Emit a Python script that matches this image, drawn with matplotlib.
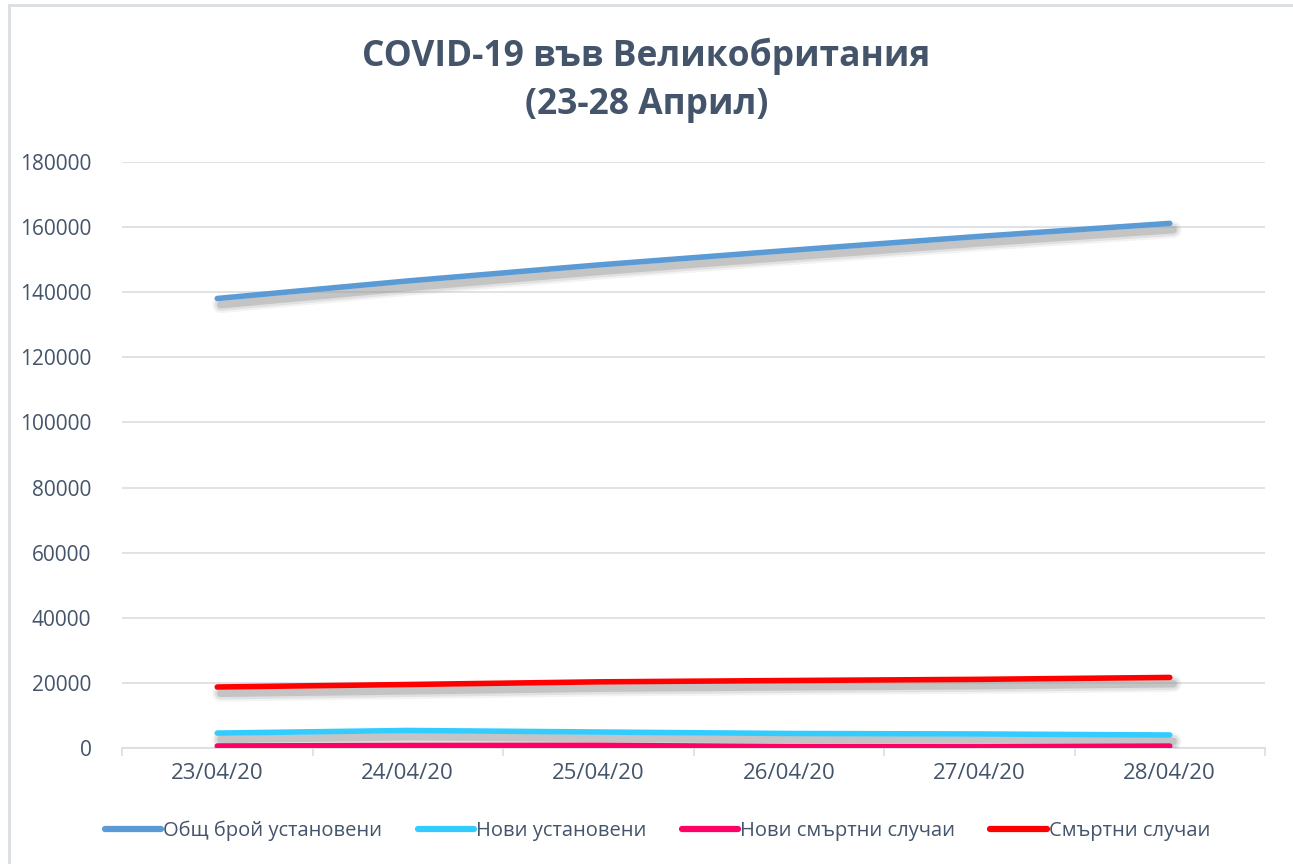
import matplotlib
matplotlib.use("Agg")
import matplotlib.pyplot as plt
import matplotlib.patheffects as pe
from matplotlib.patches import Rectangle
import numpy as np

dates = ["23/04/20", "24/04/20", "25/04/20", "26/04/20", "27/04/20", "28/04/20"]
total_cases = [138078, 143464, 148377, 152840, 157149, 161145]
new_cases = [4583, 5386, 4913, 4463, 4309, 3996]
new_deaths = [616, 768, 813, 413, 360, 586]
deaths = [18738, 19506, 20319, 20732, 21092, 21678]

series = [
    ("Общ брой установени", total_cases, "#5B9BD5"),
    ("Нови установени", new_cases, "#33CCFF"),
    ("Нови смъртни случаи", new_deaths, "#FF0066"),
    ("Смъртни случаи", deaths, "#FF0000"),
]
yticks = [0, 20000, 40000, 60000, 80000, 100000, 120000, 140000, 160000, 180000]

plt.rcParams['font.family'] = ['Open Sans', 'DejaVu Sans']
text_color = "#44546A"

W, H = 1293, 864
fig = plt.figure(figsize=(W / 100, H / 100), dpi=100)
fig.patches.append(Rectangle((8.5 / W, -0.1), 1.2, 1.1 - 5.5 / H, transform=fig.transFigure,
                             fill=False, edgecolor="#D9DEE4", linewidth=2, zorder=0))

ax = fig.add_axes([122 / W, 1 - 748 / H, (1265 - 122) / W, (748 - 162) / H])
x = np.arange(len(dates))

shadow = [
    pe.SimpleLineShadow(offset=(2.5, -4.5), shadow_color="#909090", alpha=0.10, linewidth=12),
    pe.SimpleLineShadow(offset=(2.5, -4.5), shadow_color="#909090", alpha=0.18, linewidth=9),
    pe.SimpleLineShadow(offset=(2.5, -4.5), shadow_color="#909090", alpha=0.35, linewidth=5.5),
    pe.Normal(),
]

for label, vals, color in series:
    ax.plot(x, vals, color=color, lw=4, solid_capstyle="round", label=label,
            path_effects=shadow, zorder=3)

ax.set_xlim(-0.5, len(dates) - 0.5)
ax.set_ylim(0, 180000)
ax.set_yticks(yticks)
ax.set_yticklabels([str(v) for v in yticks])
ax.set_xticks(x)
ax.set_xticklabels(dates)
ax.set_xticks(np.arange(-0.5, len(dates), 1), minor=True)

ax.grid(axis="y", color="#D9DEE4", lw=1.2, zorder=0)
for s in ["top", "right", "left"]:
    ax.spines[s].set_visible(False)
ax.spines["bottom"].set_color("#D9DEE4")
ax.spines["bottom"].set_linewidth(1.2)

ax.tick_params(axis="y", length=0, labelsize=15, labelcolor=text_color, pad=22)
ax.tick_params(axis="x", which="major", length=0, labelsize=16, labelcolor=text_color, pad=11)
ax.tick_params(axis="x", which="minor", length=6, color="#D9DEE4", width=1.2)

fig.text(0.5, 1 - 80 / H, "COVID-19 във Великобритания\n(23-28 Април)", ha="center", va="center",
         fontsize=25.5, fontweight="bold", color=text_color, linespacing=1.45)

leg = fig.legend(loc="center", bbox_to_anchor=(0.5 + 11 / W, 1 - 831 / H), ncol=4, frameon=False,
                 fontsize=14.5, handlelength=2.8, handletextpad=0.1, columnspacing=1.75)
for t in leg.get_texts():
    t.set_color(text_color)
for h in leg.legend_handles:
    h.set_path_effects([])
    h.set_linewidth(4.5)

fig.savefig("out.png", dpi=100)
